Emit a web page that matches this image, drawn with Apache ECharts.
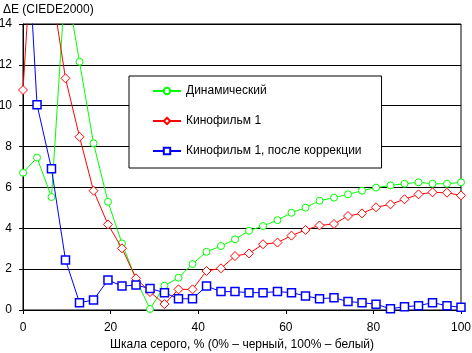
<!DOCTYPE html>
<html>
<head>
<meta charset="utf-8">
<script src="https://cdn.jsdelivr.net/npm/echarts@6/dist/echarts.min.js"></script>
<style>
  html, body { margin: 0; padding: 0; background: #fff; }
  #chart { width: 472px; height: 353px; }
</style>
</head>
<body>
<div id="chart"></div>
<script>
// gray levels, % (32 steps)
const grayLevels = [0, 3.2, 6.5, 9.7, 12.9, 16.1, 19.4, 22.6, 25.8, 29.0, 32.3, 35.5, 38.7, 41.9, 45.2, 48.4,
  51.6, 54.8, 58.1, 61.3, 64.5, 67.7, 71.0, 74.2, 77.4, 80.6, 83.9, 87.1, 90.3, 93.5, 96.8, 100];

const dynamicValues = [6.72, 7.46, 5.53, 16.2, 12.15, 8.16, 5.3, 3.26, 1.5, 0.05, 1.19, 1.58, 2.25, 2.85, 3.13, 3.46,
  3.88, 4.11, 4.4, 4.76, 5.01, 5.35, 5.5, 5.66, 5.84, 5.99, 6.1, 6.18, 6.25, 6.18, 6.18, 6.25];

const movieValues = [10.77, 21.8, 15.8, 11.34, 8.48, 5.84, 4.19, 3.02, 1.55, 0.88, 0.29, 1.01, 1.01, 1.91, 2.04, 2.64,
  2.77, 3.22, 3.3, 3.64, 3.92, 4.14, 4.21, 4.6, 4.73, 5.03, 5.17, 5.42, 5.66, 5.76, 5.74, 5.61];

const correctedValues = [22.3, 10.05, 6.92, 2.45, 0.36, 0.49, 1.47, 1.17, 1.22, 1.05, 0.85, 0.55, 0.55, 1.17, 0.9, 0.9,
  0.85, 0.85, 0.9, 0.85, 0.69, 0.55, 0.6, 0.41, 0.36, 0.28, 0.06, 0.16, 0.21, 0.36, 0.21, 0.13];

const seriesNames = ['Динамический', 'Кинофильм 1', 'Кинофильм 1, после коррекции'];
const seriesColors = ['#00ff00', '#ff0000', '#0000ff'];

const font = 'Liberation Sans, Arial, sans-serif';

const pairs = (vals) => vals.map((v, i) => [grayLevels[i], v]);

const chart = echarts.init(document.getElementById('chart'), null, { renderer: 'canvas' });

chart.setOption({
  animation: false,
  backgroundColor: '#fff',
  textStyle: { fontFamily: font },
  title: {
    text: 'ΔE (CIEDE2000)',
    left: -2,
    top: -1,
    textStyle: { fontSize: 12, fontWeight: 'normal', color: '#000', fontFamily: font }
  },
  grid: {
    left: 23, right: 11, top: 24, bottom: 43,
    outerBoundsMode: 'none',
    containLabel: false,
    show: true, borderColor: '#000', borderWidth: 1
  },
  legend: {
    orient: 'vertical',
    left: 129,
    top: 76,
    data: seriesNames,
    backgroundColor: '#fff',
    borderColor: '#000',
    borderWidth: 1,
    borderRadius: 0,
    padding: [9, 20, 11, 23],
    itemWidth: 28,
    itemHeight: 8,
    itemGap: 18,
    textStyle: { fontSize: 12, color: '#000', fontFamily: font }
  },
  xAxis: {
    type: 'value',
    min: 0, max: 100, interval: 20,
    name: 'Шкала серого, % (0% – черный, 100% – белый)',
    nameLocation: 'middle',
    nameGap: 29,
    nameTextStyle: { fontSize: 12, color: '#000', fontFamily: font },
    axisLine: { lineStyle: { color: '#000' } },
    axisTick: { show: true, length: 4, lineStyle: { color: '#000' } },
    axisLabel: { fontSize: 12, color: '#000', margin: 12, fontFamily: font },
    splitLine: { show: false }
  },
  yAxis: {
    type: 'value',
    min: 0, max: 14, interval: 2,
    axisLine: { show: true, lineStyle: { color: '#000' } },
    axisTick: { show: true, length: 4, lineStyle: { color: '#000' } },
    axisLabel: { fontSize: 12, color: '#000', margin: 11, fontFamily: font },
    splitLine: { show: true, lineStyle: { color: '#000', width: 1 } }
  },
  series: [
    {
      name: seriesNames[0], type: 'line', data: pairs(dynamicValues),
      symbol: 'circle', symbolSize: 7,
      color: seriesColors[0],
      lineStyle: { width: 1, color: seriesColors[0] },
      itemStyle: { color: '#fff', borderColor: seriesColors[0], borderWidth: 1 },
      z: 3
    },
    {
      name: seriesNames[1], type: 'line', data: pairs(movieValues),
      symbol: 'diamond', symbolSize: 9,
      color: seriesColors[1],
      lineStyle: { width: 1, color: seriesColors[1] },
      itemStyle: { color: '#fff', borderColor: seriesColors[1], borderWidth: 1 },
      z: 4
    },
    {
      name: seriesNames[2], type: 'line', data: pairs(correctedValues),
      symbol: 'rect', symbolSize: 8,
      color: seriesColors[2],
      lineStyle: { width: 1, color: seriesColors[2] },
      itemStyle: { color: '#fff', borderColor: seriesColors[2], borderWidth: 1.5 },
      z: 5
    }
  ]
});
</script>
</body>
</html>
